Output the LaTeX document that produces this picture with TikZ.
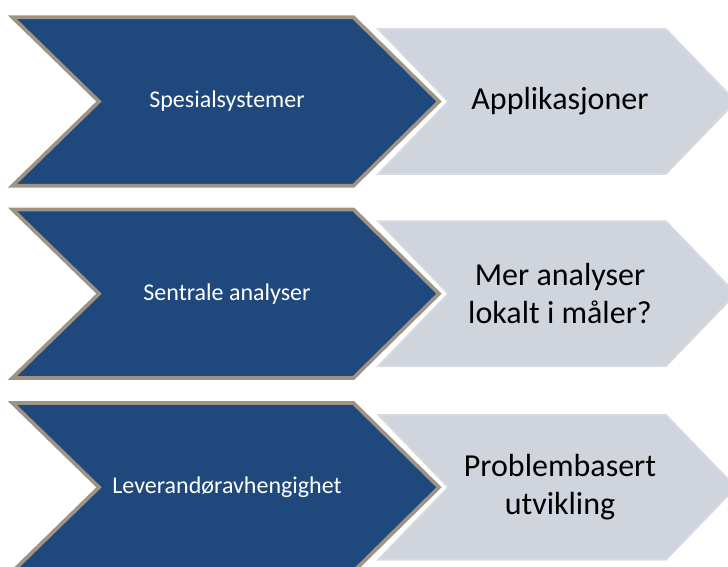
\documentclass[tikz,border=0pt]{standalone}
\usepackage{fontspec}
\setmainfont{Carlito}
\definecolor{navy}{HTML}{1F497D}
\definecolor{tan}{HTML}{9E9384}
\definecolor{grayfill}{HTML}{D0D4DC}
\definecolor{grayedge}{HTML}{D8DBE2}
\tikzset{
  bluechev/.style={fill=navy, draw=tan, line width=2.8pt, line join=miter},
  graychev/.style={fill=grayfill, draw=grayedge, line width=1.2pt, line join=miter},
  whitetxt/.style={text=white, font=\fontsize{18}{21.6}\selectfont, align=center, inner sep=0pt},
  darktxt/.style={text=black, font=\fontsize{24}{28.8}\selectfont, align=center, inner sep=0pt}
}
\begin{document}
\begin{tikzpicture}[x=0.75pt,y=-0.75pt]
\useasboundingbox (0,0) rectangle (728,567);
\clip (0,0) rectangle (728,567);
\foreach \cy/\a/\b [count=\i] in {101.5/{Spesialsystemer}/{Applikasjoner},
                         293.7/{Sentrale analyser}/{Mer analyser\\lokalt i måler?},
                         487.3/{Leverandøravhengighet}/{Problembasert\\utvikling}}{
  % grey chevron (behind)
  \path[graychev] (378,\cy-72.5) -- (666,\cy-72.5) -- (736,\cy) -- (666,\cy+72.5)
        -- (378,\cy+72.5) -- (448,\cy) -- cycle;
  % blue chevron
  \path[bluechev] (12.5,\cy-84.2) -- (353.5,\cy-84.2) -- (439,\cy) -- (353.5,\cy+84.2)
        -- (12.5,\cy+84.2) -- (99,\cy) -- cycle;
  \node[whitetxt] (blue\i) at (227,\cy) {\a};
  \node[darktxt] (gray\i) at (560,\cy) {\b};
}
\end{tikzpicture}
\end{document}
